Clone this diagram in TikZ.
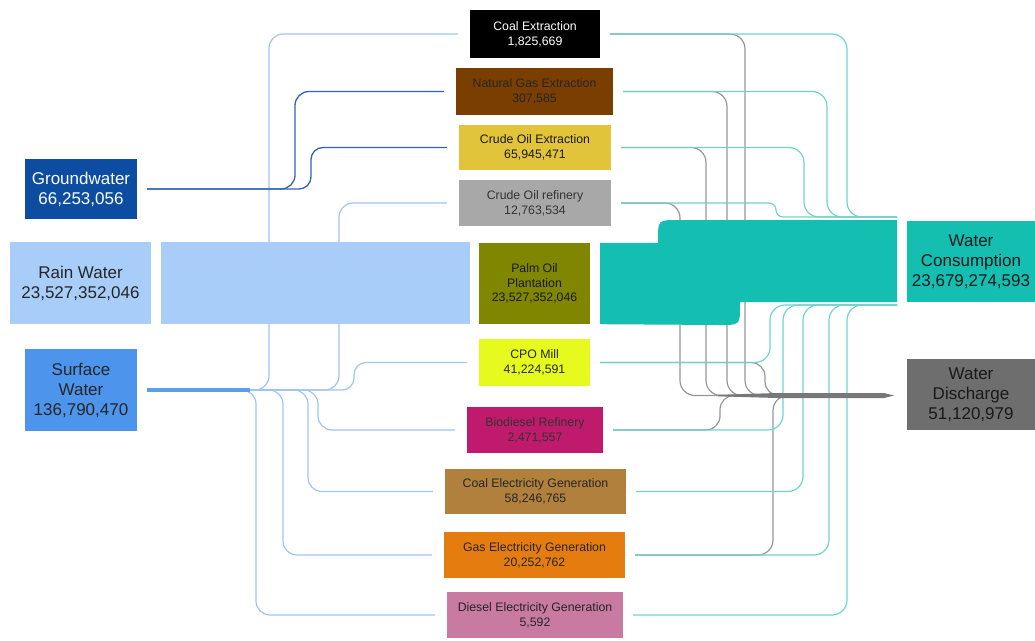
\documentclass[tikz,border=0pt]{standalone}
\usepackage{fontspec}
\setmainfont{Liberation Sans}
\usetikzlibrary{calc}
\definecolor{gwc}{RGB}{12,77,162}
\definecolor{rainc}{RGB}{168,205,248}
\definecolor{surfc}{RGB}{76,148,236}
\definecolor{natgasc}{RGB}{122,62,0}
\definecolor{crudec}{RGB}{226,196,58}
\definecolor{refinc}{RGB}{168,168,168}
\definecolor{palmc}{RGB}{128,134,0}
\definecolor{cpoc}{RGB}{230,250,30}
\definecolor{bioc}{RGB}{192,26,108}
\definecolor{coalelc}{RGB}{176,128,60}
\definecolor{gaselc}{RGB}{228,124,16}
\definecolor{dieselc}{RGB}{200,122,160}
\definecolor{consc}{RGB}{20,191,178}
\definecolor{dischc}{RGB}{110,110,110}
\definecolor{blline}{RGB}{160,196,242}
\definecolor{trunkc}{RGB}{95,157,235}
\definecolor{gwline}{RGB}{50,100,175}
\definecolor{tline}{RGB}{110,212,202}
\definecolor{gline}{RGB}{150,150,150}
\definecolor{gband}{RGB}{120,120,120}
\begin{document}
\begin{tikzpicture}[x=1pt,y=-1pt,
  big/.style={font=\fontsize{17}{20}\selectfont, align=center, inner sep=0pt},
  mid/.style={font=\fontsize{12.3}{15}\selectfont, align=center, inner sep=0pt},
  bl/.style={draw=blline, line width=1.2pt, rounded corners=14pt},
  gwl/.style={draw=gwline, line width=1.3pt, rounded corners=14pt},
  tl/.style={draw=tline, line width=1.2pt, rounded corners=15pt},
  gl/.style={draw=gline, line width=1.2pt, rounded corners=15pt}]
\useasboundingbox (0,0) rectangle (1035,640);
% left nodes
\node[big, fill=gwc, text=white, minimum width=112pt, minimum height=60pt] (gw) at (81,189) {Groundwater\\66,253,056};
\node[big, fill=rainc, text=black!85, minimum width=141pt, minimum height=82pt] (rain) at (80.5,283) {Rain Water\\23,527,352,046};
\node[big, fill=surfc, text=black!85, minimum width=112pt, minimum height=82pt] (surf) at (81,390) {Surface\\Water\\136,790,470};
% middle nodes
\node[mid, fill=black, text=white, minimum width=130pt, minimum height=48pt] (coal) at (535,34) {Coal Extraction\\1,825,669};
\node[mid, fill=natgasc, text=black!85, minimum width=157pt, minimum height=47pt] (natgas) at (534.5,91.5) {Natural Gas Extraction\\307,585};
\node[mid, fill=crudec, text=black!90, minimum width=152pt, minimum height=45pt] (crude) at (535,147.5) {Crude Oil Extraction\\65,945,471};
\node[mid, fill=refinc, text=black!80, minimum width=152pt, minimum height=46pt] (refin) at (535,203) {Crude Oil refinery\\12,763,534};
\node[mid, fill=palmc, text=black!90, minimum width=111pt, minimum height=81pt, font=\fontsize{12.3}{14.5}\selectfont] (palm) at (534.5,283.5) {Palm Oil\\Plantation\\23,527,352,046};
\node[mid, fill=cpoc, text=black!85, minimum width=111pt, minimum height=47pt] (cpo) at (534.5,362.5) {CPO Mill\\41,224,591};
\node[mid, fill=bioc, text=black!80, minimum width=136pt, minimum height=46pt] (bio) at (535,430) {Biodiesel Refinery\\2,471,557};
\node[mid, fill=coalelc, text=black!85, minimum width=181pt, minimum height=45pt] (coalel) at (535.5,491.5) {Coal Electricity Generation\\58,246,765};
\node[mid, fill=gaselc, text=black!85, minimum width=181pt, minimum height=46pt] (gasel) at (534.5,555) {Gas Electricity Generation\\20,252,762};
\node[mid, fill=dieselc, text=black!85, minimum width=176pt, minimum height=46pt] (diesel) at (535,615) {Diesel Electricity Generation\\5,592};
% right nodes
\node[big, fill=consc, text=black!90, minimum width=128pt, minimum height=81pt] (cons) at (971,261.5) {Water\\Consumption\\23,679,274,593};
\node[big, fill=dischc, text=black!90, minimum width=128pt, minimum height=71pt] (disch) at (971,394.5) {Water\\Discharge\\51,120,979};
% junction coordinates
\coordinate (ctop) at (897,217);
\coordinate (cbot) at (897,305);
\coordinate (dband) at (800,395.5);
% left: surface water
\draw[bl] ([xshift=10pt]surf.east) -- (269,390) |- ([xshift=-12pt]coal.west);
\draw[bl] ([xshift=10pt]surf.east) -- (339,390) |- ([xshift=-12pt]refin.west);
\draw[bl, rounded corners=12pt] ([xshift=10pt]surf.east) -- (354,390) |- ([xshift=-12pt]cpo.west);
\draw[bl] ([xshift=10pt]surf.east) -- (318,390) |- ([xshift=-12pt]bio.west);
\draw[bl] ([xshift=10pt]surf.east) -- (308,390) |- ([xshift=-12pt]coalel.west);
\draw[bl] ([xshift=10pt]surf.east) -- (283,390) |- ([xshift=-12pt]gasel.west);
\draw[bl] ([xshift=10pt]surf.east) -- (256,390) |- ([xshift=-12pt]diesel.west);
\draw[trunkc, line width=3.2pt] ([xshift=10pt]surf.east) -- (250,390);
% left: groundwater
\draw[gwl] ([xshift=10pt]gw.east) -- (295,189) |- ([xshift=-12pt]natgas.west);
\draw[gwl, rounded corners=12pt] ([xshift=10pt]gw.east) -- (311,189) |- ([xshift=-12pt]crude.west);
% rain band
\fill[rainc] ([xshift=10pt]rain.north east) rectangle ([xshift=-9pt]palm.south west);
% right: discharge (gray)
\draw[gl] ([xshift=10pt]coal.east) -- (745,34) |- (dband);
\draw[gl] ([xshift=10pt]natgas.east) -- (727,91.5) |- (dband);
\draw[gl] ([xshift=10pt]crude.east) -- (706,147.5) |- (dband);
\draw[gl] ([xshift=10pt]refin.east) -- (680,203) |- (dband);
\draw[gl, rounded corners=14pt] ([xshift=10pt]cpo.east) -- (765,362.5) |- (dband);
\draw[gl, rounded corners=14pt] ([xshift=10pt]bio.east) -- (720,430) |- (dband);
\draw[gl] ([xshift=10pt]gasel.east) -- (773,555) |- (dband);
% right: consumption (teal)
\draw[tl] ([xshift=10pt]coal.east) -- (847,34) |- (ctop);
\draw[tl] ([xshift=10pt]natgas.east) -- (827,91.5) |- (ctop);
\draw[tl] ([xshift=10pt]crude.east) -- (804,147.5) |- (ctop);
\draw[tl, rounded corners=7pt] ([xshift=10pt]refin.east) -- (776,203) |- (ctop);
\draw[tl] ([xshift=10pt]cpo.east) -- (770,362.5) |- (cbot);
\draw[tl] ([xshift=10pt]bio.east) -- (783,430) |- (cbot);
\draw[tl] ([xshift=10pt]coalel.east) -- (803,491.5) |- (cbot);
\draw[tl] ([xshift=10pt]gasel.east) -- (829,555) |- (cbot);
\draw[tl] ([xshift=10pt]diesel.east) -- (847,615) |- (cbot);
% consumption band
\fill[consc] ([xshift=10pt]palm.north east) -- (658,243) -- (658,240) .. controls (658,220) .. (678,220) -- (897,220) -- (897,302) -- (740,302) -- (740,305) .. controls (740,325) .. (720,325) -- ([xshift=10pt]palm.south east) -- cycle;
% discharge band
\fill[gband] (718,394.8) -- (777,393) -- (884,393) -- (894,395.5) -- (884,398) -- (777,398) -- (718,396.3) -- cycle;
\end{tikzpicture}
\end{document}
